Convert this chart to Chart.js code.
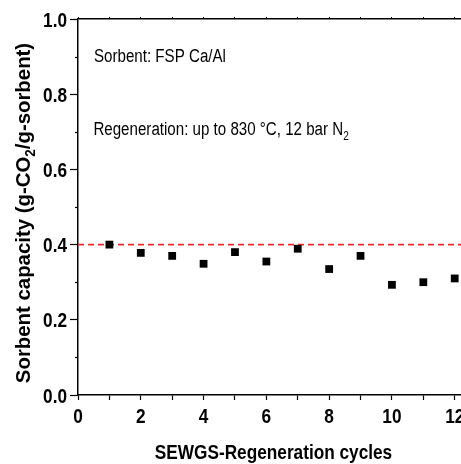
<!DOCTYPE html>
<html>
<head>
<meta charset="utf-8">
<script src="https://cdn.jsdelivr.net/npm/chart.js@4/dist/chart.umd.min.js"></script>
<style>
  html, body { margin: 0; padding: 0; background: #fff; overflow: hidden; }
  #wrap { width: 461px; height: 464px; }
</style>
</head>
<body>
<div id="wrap"><canvas id="chart" width="461" height="464"></canvas></div>
<script>
var cycles = [1, 2, 3, 4, 5, 6, 7, 8, 9, 10, 11, 12];
var capacity = [0.400, 0.378, 0.370, 0.349, 0.380, 0.355, 0.389, 0.335, 0.370, 0.293, 0.300, 0.310];
var refX = [0, 12.2];
var refY = [0.4, 0.4];
var xRange = [0, 12.2];
var yRange = [0, 1.0];
var xTitle = 'SEWGS-Regeneration cycles';
var yTitle = ['Sorbent capacity (g-CO', '2', '/g-sorbent)'];
var notes = [
    { x: 0.51, y: 0.886, text: 'Sorbent: FSP Ca/Al', sub: '' },
    { x: 0.49, y: 0.691, text: 'Regeneration: up to 830 \u00b0C, 12 bar N', sub: '2' }
];

// the original uses a narrow Arial; squeeze Liberation Sans to get close
var FONT = "'Liberation Sans', Arial, sans-serif";
var SQUEEZE = 0.82;

function toPoints(xs, ys) {
    return xs.map(function(x, i) { return { x: x, y: ys[i] }; });
}

function squeezed(ctx, text, x, y, font, align, sx) {
    ctx.save();
    ctx.font = font;
    ctx.textAlign = align;
    ctx.translate(x, y);
    ctx.scale(sx, 1);
    ctx.fillText(text, 0, 0);
    var w = ctx.measureText(text).width * sx;
    ctx.restore();
    return w;
}

var extras = {
    id: 'extras',
    afterDraw: function(c) {
        var ctx = c.ctx;
        var xs = c.scales.x;
        var ys = c.scales.y;
        var area = c.chartArea;
        var bold = 'bold 21px ' + FONT;
        ctx.save();
        ctx.fillStyle = '#000';
        ctx.strokeStyle = '#000';
        ctx.textBaseline = 'alphabetic';

        // minor ticks on y
        ctx.lineWidth = 1.2;
        for (var v = 1; v < 10; v += 2) {
            var py = Math.round(ys.getPixelForValue(v / 10)) + 0.5;
            ctx.beginPath();
            ctx.moveTo(ys.right - 3, py);
            ctx.lineTo(ys.right, py);
            ctx.stroke();
        }

        // tick labels
        ys.ticks.forEach(function(t) {
            squeezed(ctx, t.value.toFixed(1), ys.right - 11, ys.getPixelForValue(t.value) + 7.5, bold, 'right', SQUEEZE);
        });
        xs.ticks.forEach(function(t) {
            if (t.value % 2 !== 0) return;
            squeezed(ctx, String(t.value), xs.getPixelForValue(t.value), xs.top + 28, bold, 'center', SQUEEZE);
        });

        // axis titles
        squeezed(ctx, xTitle, (area.left + area.right) / 2 + 4, 459, bold, 'center', SQUEEZE);

        ctx.save();
        ctx.translate(30, (area.top + area.bottom) / 2 + 6);
        ctx.rotate(-Math.PI / 2);
        var sy = 0.97;
        ctx.font = bold;
        var w0 = ctx.measureText(yTitle[0]).width * sy;
        ctx.font = 'bold 14px ' + FONT;
        var w1 = ctx.measureText(yTitle[1]).width * sy;
        ctx.font = bold;
        var w2 = ctx.measureText(yTitle[2]).width * sy;
        var start = -(w0 + w1 + w2) / 2;
        squeezed(ctx, yTitle[0], start, 0, bold, 'left', sy);
        squeezed(ctx, yTitle[1], start + w0, 5, 'bold 14px ' + FONT, 'left', sy);
        squeezed(ctx, yTitle[2], start + w0 + w1, 0, bold, 'left', sy);
        ctx.restore();

        // notes
        notes.forEach(function(n) {
            var px = xs.getPixelForValue(n.x);
            var py = ys.getPixelForValue(n.y);
            var w = squeezed(ctx, n.text, px, py, '18px ' + FONT, 'left', 0.84);
            if (n.sub) {
                squeezed(ctx, n.sub, px + w, py + 5, '12px ' + FONT, 'left', 0.84);
            }
        });
        ctx.restore();
    }
};

var chart = new Chart(document.getElementById('chart').getContext('2d'), {
    type: 'scatter',
    data: {
        datasets: [{
            data: toPoints(cycles, capacity),
            pointStyle: 'rect',
            pointRadius: 5.5,
            pointBackgroundColor: '#000',
            pointBorderColor: '#000',
            pointBorderWidth: 0,
            showLine: false
        }, {
            type: 'line',
            data: toPoints(refX, refY),
            borderColor: '#ee2a2a',
            borderWidth: 1.6,
            borderDash: [6, 4],
            pointRadius: 0,
            fill: false
        }]
    },
    options: {
        responsive: false,
        animation: false,
        layout: { padding: 0, autoPadding: false },
        plugins: {
            legend: { display: false },
            tooltip: { enabled: false }
        },
        scales: {
            x: {
                type: 'linear',
                position: 'bottom',
                min: xRange[0],
                max: xRange[1],
                afterFit: function(s) { s.height = 69; s.paddingRight = 0; s.paddingLeft = 0; },
                ticks: { display: false, stepSize: 1, includeBounds: false },
                grid: { drawOnChartArea: false, tickLength: 5, tickColor: '#000', tickWidth: 1.2 },
                border: { color: '#000', width: 1.5 }
            },
            xTop: {
                type: 'linear',
                position: 'top',
                min: xRange[0],
                max: xRange[1],
                afterFit: function(s) { s.height = 19; s.paddingRight = 0; s.paddingLeft = 0; },
                ticks: { display: false, stepSize: 1, includeBounds: false },
                grid: { drawOnChartArea: false, tickLength: 2, tickColor: '#000' },
                border: { color: '#000', width: 1.5 }
            },
            y: {
                type: 'linear',
                min: yRange[0],
                max: yRange[1],
                afterFit: function(s) { s.width = 78; s.paddingTop = 0; s.paddingBottom = 0; },
                ticks: { display: false, stepSize: 0.2 },
                grid: { drawOnChartArea: false, tickLength: 8, tickColor: '#000', tickWidth: 1.2 },
                border: { color: '#000', width: 1.5 }
            }
        }
    },
    plugins: [extras]
});
</script>
</body>
</html>
